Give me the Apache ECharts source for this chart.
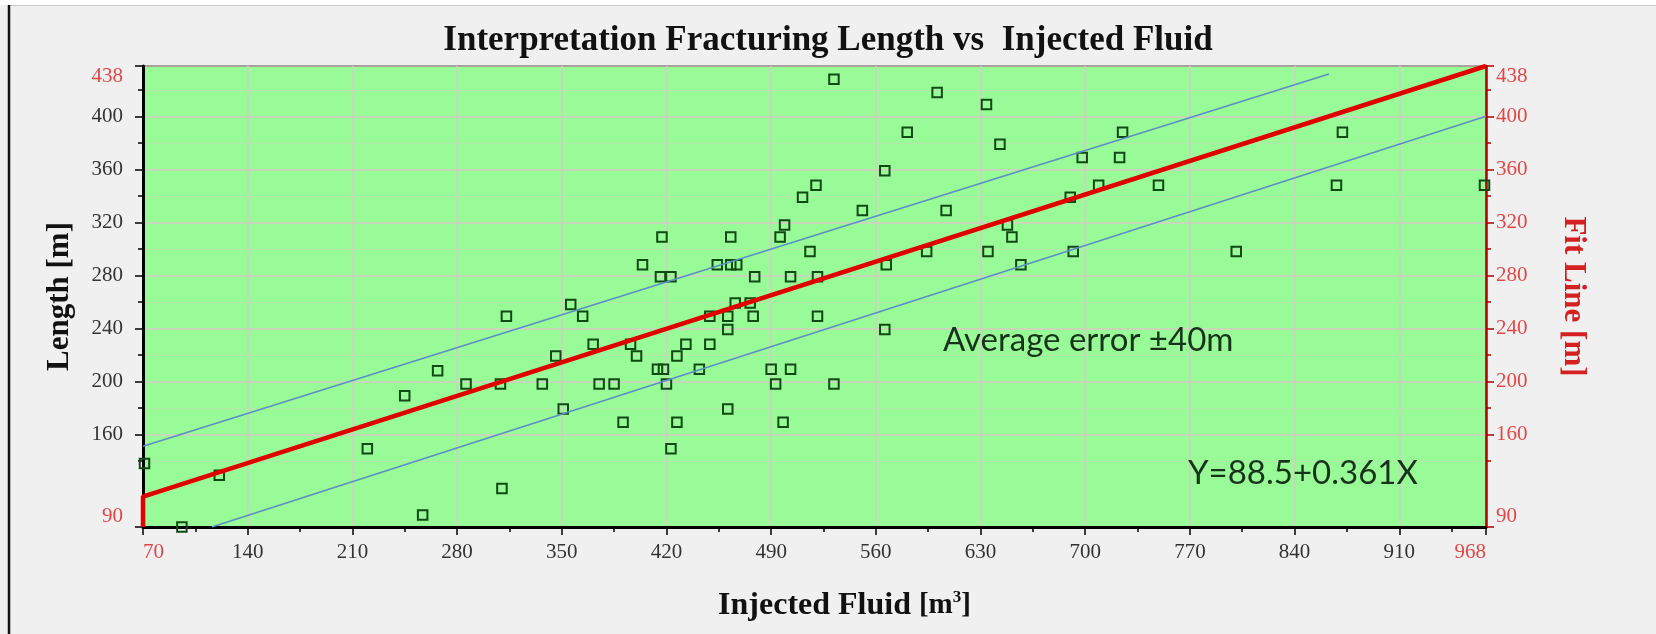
<!DOCTYPE html>
<html><head><meta charset="utf-8">
<script src="https://cdn.jsdelivr.net/npm/echarts@6/dist/echarts.min.js"></script>
<style>html,body{margin:0;padding:0;background:#f0f0f0}#c{width:1656px;height:634px}</style>
</head><body><div id="c"></div>
<script>
// ---- data ----
const chartTitle = 'Interpretation Fracturing Length vs  Injected Fluid';
const xMin = 70, xMax = 968, xStep = 70;
const yMin = 90, yMax = 438;
const yLabelValues = [90, 160, 200, 240, 280, 320, 360, 400, 438];
const yMajorTicks = [90, 160, 200, 240, 280, 320, 360, 400, 438];
const yMinorTicks = [140, 180, 220, 260, 300, 340, 380, 420];
const redLabels = [70, 968, 90, 438];

const injectedFluid = [532,601,634,581,643,566,520,511,551,607,499,496,417,463,648,651,516,594,635,404,
  454,463,467,567,657,416,423,479,503,521,725,872,698,723,709,749,868,967,690,692,
  801,71,121,96,220,257,310,245,267,286,309,337,375,385,351,346,371,313,356,364,
  466,476,449,461,478,521,461,566,396,433,449,400,427,414,418,442,490,503,420,493,
  532,461,391,427,498,423];
const fracLength = [428,418,409,388,379,359,348,339,329,329,318,309,309,309,318,309,298,298,298,288,
  288,288,288,288,288,279,279,279,279,279,388,388,369,369,348,348,348,348,339,298,
  298,138,129,90,149,99,119,189,208,198,198,198,198,198,179,219,228,249,258,249,
  259,259,249,249,249,249,239,239,228,228,228,219,219,209,209,209,209,209,198,198,
  198,179,169,169,169,149];

const fitLine = [[70, 90], [70, 113], [968, 438]];
const upperBound = [[70, 151], [863, 432]];
const lowerBound = [[116, 90], [968, 400]];

const annotationError = 'Average error ±40m';
const annotationEq = 'Y=88.5+0.361X';

// ---- chart ----
const points = injectedFluid.map((x, i) => [x, fracLength[i]]);
const serif = 'Liberation Serif';
const red = '#d42020';
const labelRed = '#e04848';
const isRed = v => redLabels.indexOf(Number(v)) >= 0;

const chart = echarts.init(document.getElementById('c'), null, {renderer: 'canvas'});
chart.setOption({
  backgroundColor: '#f0f0f0',
  animation: false,
  title: {
    text: chartTitle, left: 'center', top: 18,
    textStyle: {fontFamily: serif, fontWeight: 'bold', fontSize: 35, color: '#111'}
  },
  grid: {
    left: 143, right: 170, top: 66, bottom: 107,
    show: true, backgroundColor: '#98fb98', borderColor: '#2a2a2a', borderWidth: 2
  },
  xAxis: [{
    type: 'value', min: xMin, max: xMax, interval: xStep, position: 'bottom',
    name: 'Injected Fluid {u|[m}{sup|3}{u|]}', nameLocation: 'middle', nameGap: 62,
    nameTextStyle: {
      fontFamily: serif, fontWeight: 'bold', fontSize: 32, color: '#111', padding: [0, 0, 0, 60],
      rich: {
        u: {fontFamily: serif, fontWeight: 'bold', fontSize: 29, color: '#111'},
        sup: {fontFamily: serif, fontWeight: 'bold', fontSize: 17, color: '#111', padding: [0, 0, 16, 0]}
      }
    },
    axisLine: {show: true, onZero: false, lineStyle: {color: '#000', width: 3}},
    axisTick: {show: true, length: 8, lineStyle: {color: '#000', width: 1.5}},
    minorTick: {show: true, splitNumber: 2, length: 5, lineStyle: {color: '#000', width: 1.5}},
    splitLine: {show: true, lineStyle: {color: '#d8cbc4', width: 1.5}},
    axisLabel: {
      margin: 15, fontFamily: serif, fontSize: 21, alignMinLabel: 'left', alignMaxLabel: 'right',
      color: v => isRed(v) ? labelRed : '#333'
    }
  }],
  yAxis: [{
    type: 'value', min: yMin, max: yMax, position: 'left',
    name: 'Length [m]', nameLocation: 'middle', nameGap: 68, nameRotate: 90,
    nameTextStyle: {fontFamily: serif, fontWeight: 'bold', fontSize: 31, color: '#111'},
    axisLine: {show: true, onZero: false, lineStyle: {color: '#000', width: 3}},
    axisTick: {show: true, length: 8, customValues: yMajorTicks, lineStyle: {color: '#000', width: 1.5}},
    splitLine: {show: true, lineStyle: {color: '#d8cbc4', width: 1.5}},
    axisLabel: {
      customValues: yLabelValues, margin: 20, fontFamily: serif, fontSize: 21,
      verticalAlignMinLabel: 'bottom', verticalAlignMaxLabel: 'top',
      color: v => isRed(v) ? labelRed : '#333'
    }
  }, {
    type: 'value', min: yMin, max: yMax, position: 'right',
    name: 'Fit Line [m]', nameLocation: 'middle', nameGap: 72, nameRotate: -90,
    nameTextStyle: {fontFamily: serif, fontWeight: 'bold', fontSize: 31, color: red},
    axisLine: {show: true, onZero: false, lineStyle: {color: '#b00000', width: 2.5}},
    axisTick: {show: true, length: 8, customValues: yMajorTicks, lineStyle: {color: '#b00000', width: 1.5}},
    splitLine: {show: false},
    axisLabel: {customValues: yLabelValues, margin: 10, fontFamily: serif, fontSize: 21, color: labelRed,
      verticalAlignMinLabel: 'bottom', verticalAlignMaxLabel: 'top'}
  }, {
    type: 'value', min: yMin, max: yMax, position: 'left',
    axisLine: {show: false},
    axisTick: {show: true, length: 5, customValues: yMinorTicks, lineStyle: {color: '#000', width: 1.5}},
    splitLine: {show: true, lineStyle: {color: 'rgba(215,205,190,0.45)', width: 1}},
    axisLabel: {show: false}
  }, {
    type: 'value', min: yMin, max: yMax, position: 'right',
    axisLine: {show: false},
    axisTick: {show: true, length: 5, customValues: yMinorTicks, lineStyle: {color: '#b00000', width: 1.5}},
    splitLine: {show: false},
    axisLabel: {show: false}
  }],
  series: [{
    name: 'Measured', type: 'scatter', xAxisIndex: 0, yAxisIndex: 0, data: points,
    symbol: 'rect', symbolSize: 9.5, z: 3,
    itemStyle: {color: 'rgba(0,0,0,0)', borderColor: '#0f4a12', borderWidth: 2, opacity: 1}
  }, {
    name: 'Upper', type: 'line', xAxisIndex: 0, yAxisIndex: 0, data: upperBound, symbol: 'none', z: 4,
    lineStyle: {color: '#5b8fc4', width: 1.6}
  }, {
    name: 'Lower', type: 'line', xAxisIndex: 0, yAxisIndex: 0, data: lowerBound, symbol: 'none', z: 4,
    lineStyle: {color: '#5b8fc4', width: 1.6}
  }, {
    name: 'Fit', type: 'line', xAxisIndex: 0, yAxisIndex: 1, data: fitLine, symbol: 'none', z: 5,
    lineStyle: {color: '#e00000', width: 4.5}
  }],
  graphic: [
    {type: 'rect', shape: {x: 0, y: 0, width: 1656, height: 5}, style: {fill: '#ffffff'}, silent: true},
    {type: 'line', shape: {x1: 9, y1: 5.5, x2: 1656, y2: 5.5}, style: {stroke: '#c8c8c8', lineWidth: 1}, silent: true},
    {type: 'line', shape: {x1: 9, y1: 5, x2: 9, y2: 634}, style: {stroke: '#111', lineWidth: 2.5}, silent: true},
    {type: 'text', x: 943, y: 340, z: 10, silent: true,
     style: {text: annotationError, fontFamily: 'Lato', fontSize: 33, fill: '#17341a', align: 'left', verticalAlign: 'middle'}},
    {type: 'text', x: 1188, y: 473, z: 10, silent: true,
     style: {text: annotationEq, fontFamily: 'Lato', fontSize: 33, fill: '#17341a', align: 'left', verticalAlign: 'middle'}}
  ]
});
</script></body></html>
